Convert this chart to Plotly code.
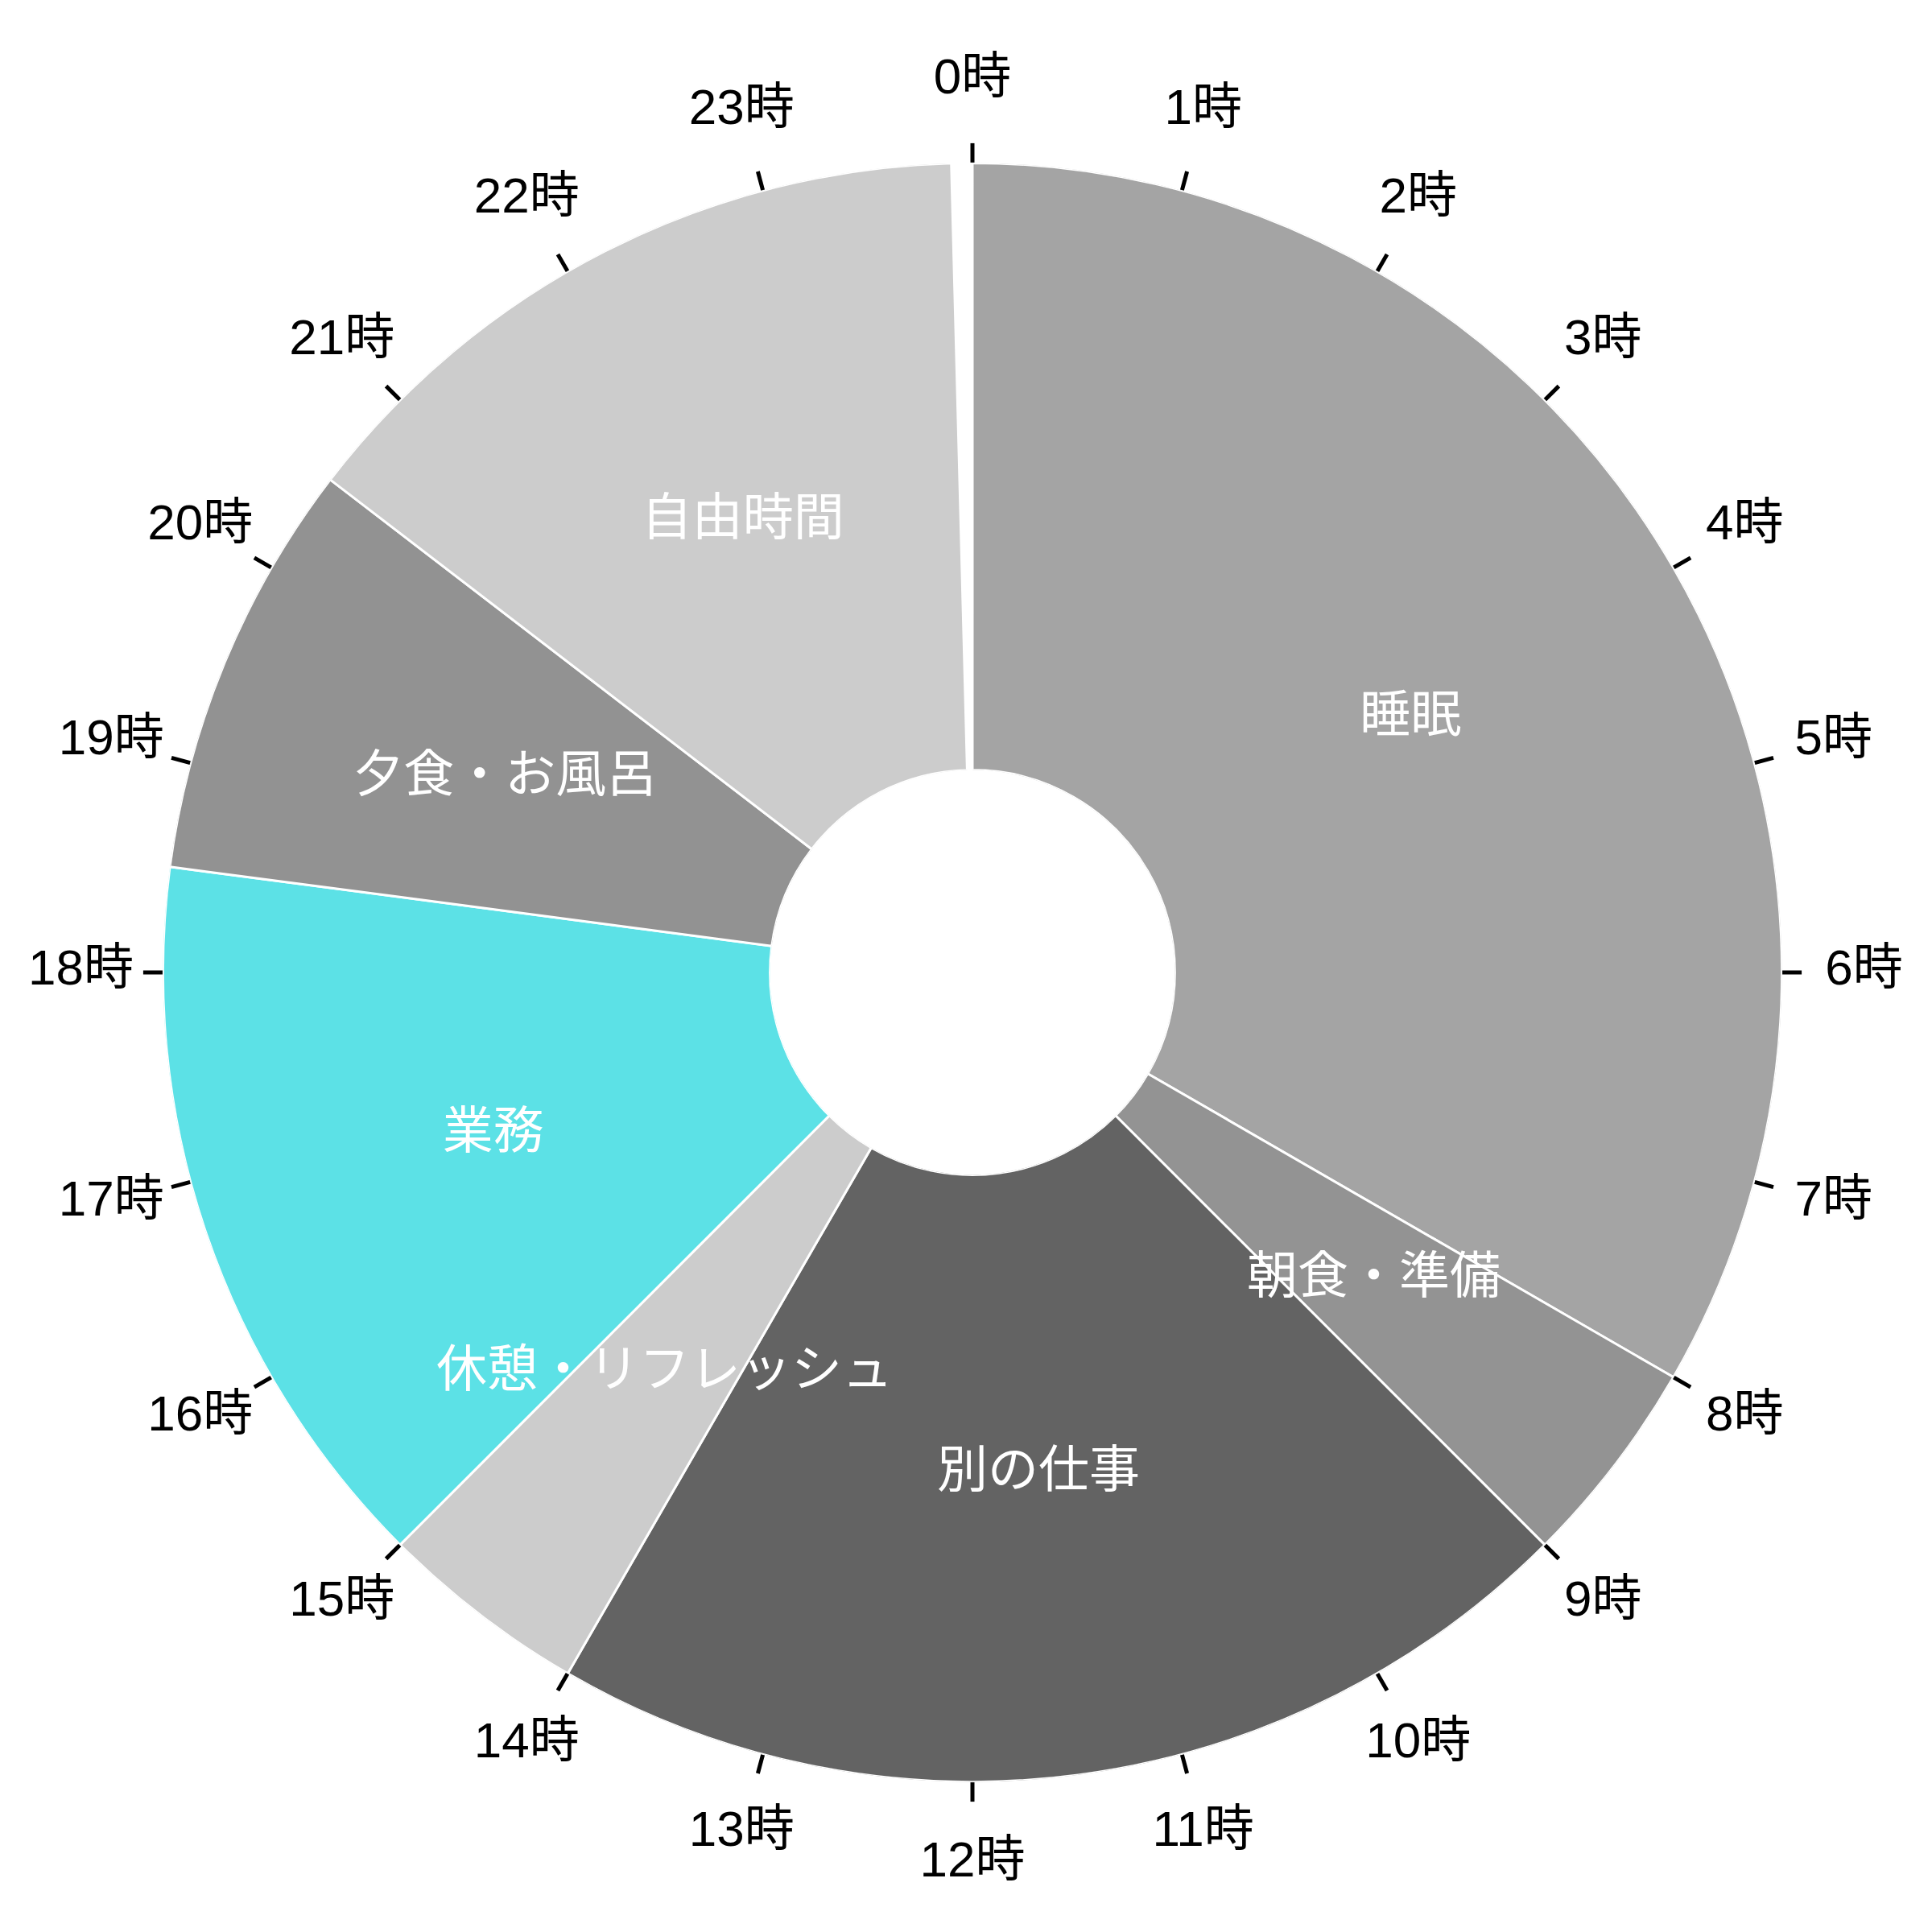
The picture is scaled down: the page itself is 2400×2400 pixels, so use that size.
import plotly.graph_objects as go

# 1日のスケジュール（時刻は 0〜24 時）
activities = ["睡眠", "朝食・準備", "別の仕事", "休憩・リフレッシュ", "業務", "夕食・お風呂", "自由時間"]
start_hours = [0, 8, 9, 14, 15, 18.5, 20.5]
end_hours = [8, 9, 14, 15, 18.5, 20.5, 23.9]
colors = ["#a4a4a4", "#939393", "#636363", "#cccccc", "#5ce1e6", "#929292", "#cccccc"]

hour_ticks = list(range(24))
hour_labels = [f"{h}時" for h in hour_ticks]

DEG_PER_HOUR = 360 / 24

widths = [(e - s) * DEG_PER_HOUR for s, e in zip(start_hours, end_hours)]
centers = [(s + e) / 2 * DEG_PER_HOUR for s, e in zip(start_hours, end_hours)]
tick_theta = [h * DEG_PER_HOUR for h in hour_ticks]

fig = go.Figure()

fig.add_trace(go.Barpolar(
    r=[1] * len(activities),
    theta=centers,
    width=widths,
    marker=dict(color=colors, line=dict(color="white", width=3)),
    text=activities,
    hoverinfo="text",
    showlegend=False,
))

# 活動名はリングの中央に配置
fig.add_trace(go.Scatterpolar(
    r=[0.5] * len(activities),
    theta=centers,
    mode="text",
    text=activities,
    textfont=dict(color="white", size=63, family="Noto Sans CJK JP"),
    hoverinfo="skip",
    showlegend=False,
))

# 時刻ラベル：外側の透明な極座標（polar2）の外周に置く
fig.add_trace(go.Scatterpolar(
    r=[1] * len(hour_ticks),
    theta=tick_theta,
    mode="text",
    text=hour_labels,
    textposition="middle center",
    textfont=dict(color="black", size=62, family="Liberation Sans, Noto Sans CJK JP"),
    cliponaxis=False,
    hoverinfo="skip",
    showlegend=False,
    subplot="polar2",
))

hidden_angular = dict(direction="clockwise", rotation=90, visible=False,
                      showgrid=False, showline=False)

fig.update_layout(
    width=2400,
    height=2400,
    margin=dict(l=0, r=0, t=0, b=0),
    paper_bgcolor="white",
    showlegend=False,
    polar=dict(
        domain=dict(x=[0.081, 0.919], y=[0.081, 0.919]),
        bgcolor="white",
        hole=0.25,
        bargap=0,
        radialaxis=dict(range=[0, 1], visible=False, showgrid=False),
        angularaxis=dict(
            direction="clockwise",
            rotation=90,
            tickmode="array",
            tickvals=tick_theta,
            ticktext=hour_labels,
            showticklabels=False,
            ticks="outside",
            ticklen=24,
            tickwidth=5,
            tickcolor="black",
            showline=False,
            showgrid=False,
        ),
    ),
    polar2=dict(
        domain=dict(x=[0.0385, 0.9615], y=[0.0385, 0.9615]),
        bgcolor="rgba(0,0,0,0)",
        radialaxis=dict(range=[0, 1], visible=False, showgrid=False),
        angularaxis=hidden_angular,
    ),
)

fig.write_html("out.html")
